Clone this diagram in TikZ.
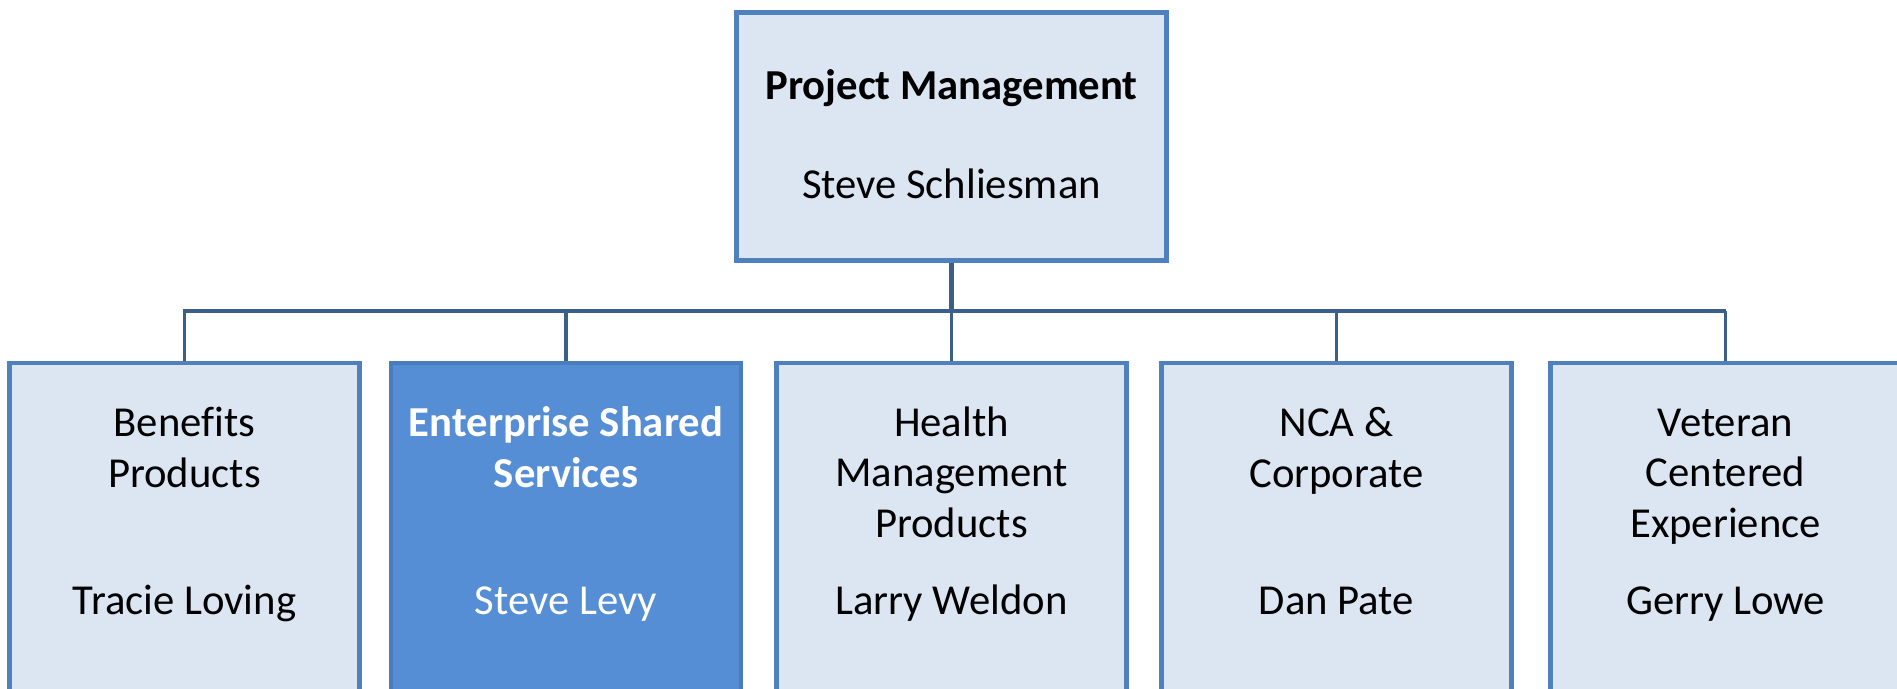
\documentclass[tikz,border=0pt]{standalone}
\usepackage{fontspec}
\setmainfont{Carlito}[Ligatures=NoCommon]
\usepackage{tikz}
\usetikzlibrary{calc}
\usetikzlibrary{positioning}

\definecolor{unitfill}{HTML}{DCE6F2}
\definecolor{unitline}{HTML}{4F81BD}
\definecolor{essfill}{HTML}{558ED5}
\definecolor{essline}{HTML}{4A7EBB}
\definecolor{linkline}{HTML}{3A5F8B}

\begin{document}
\begin{tikzpicture}[x=0.02cm,y=-0.02cm]
\tikzstyle{unit}=[rectangle,draw=unitline,fill=unitfill,line width=2.8pt,inner sep=0pt,minimum width=7cm,minimum height=7.3cm,anchor=north]
\tikzstyle{essunit}=[unit,draw=essline,fill=essfill]
\tikzstyle{title}=[align=center,inner sep=0pt,anchor=base,font=\fontsize{24.3}{28.5}\selectfont]
\tikzstyle{person}=[title]
\tikzstyle{link}=[draw=linkline,line width=1.8pt]
\useasboundingbox (0,0) rectangle (1897,689);
\clip (0,0) rectangle (1897,689);
% head of the org chart
\node[unit,anchor=center,minimum width=8.6cm,minimum height=4.96cm] at(951.5,136.5) (pm) {};
\node[title,font=\fontsize{24.3}{28.5}\selectfont\bfseries] at(951.5,100) (pmt) {Project Management};
\node[person] at(951.5,199) (pmn) {Steve Schliesman};
% product lines (title nodes sit on the baseline of their last line)
\node[unit]    at(184.5,360.5)  (bp)  {};
\node[essunit] at(566,360.5)    (ess) {};
\node[unit]    at(951.5,360.5)  (hmp) {};
\node[unit]    at(1336.5,360.5) (nca) {};
\node[unit]    at(1725.5,360.5) (vce) {};
\node[title] at(184.5,487) (bpt) {Benefits\\Products};
\node[person] at(184.5,614) (bpn) {Tracie Loving};
\node[title,text=white,font=\fontsize{24.3}{28.5}\selectfont\bfseries] at(566,487) (esst) {Enterprise Shared\\Services};
\node[person,text=white] at(566,614) (essn) {Steve Levy};
\node[title] at(951.5,537) (hmpt) {Health\\Management\\Products};
\node[person] at(951.5,614) (hmpn) {Larry Weldon};
\node[title] at(1336.5,487) (ncat) {NCA \&\\Corporate};
\node[person] at(1336.5,614) (ncan) {Dan Pate};
\node[title] at(1725.5,537) (vcet) {Veteran\\Centered\\Experience};
\node[person] at(1725.5,614) (vcen) {Gerry Lowe};
% connectors
\coordinate (bus) at(951.5,311);
\draw[link,line width=2.4pt] (pm.south) -- (pm.south |- bus);
\draw[link] (bp.north) |- (vce.north |- bus);
\foreach \u in {ess,hmp,nca,vce}
  \draw[link] (\u.north) -- (\u.north |- bus);
\end{tikzpicture}
\end{document}
